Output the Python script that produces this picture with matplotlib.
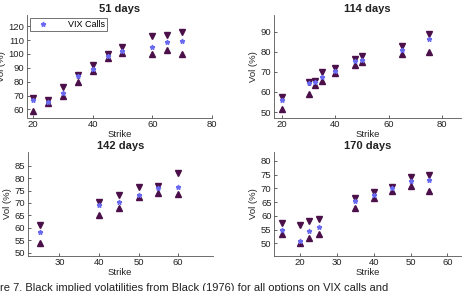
import matplotlib
matplotlib.use("Agg")
import matplotlib.pyplot as plt

plt.rcParams["font.family"] = ["Liberation Sans", "DejaVu Sans"]

# 51 days
k51 = [20, 25, 30, 35, 40, 45, 50, 60, 65, 70]
ask51 = [68, 66.5, 76, 85, 92, 100, 105, 113, 113.5, 116]
bid51 = [59, 64.5, 70, 80, 88, 97, 100.5, 100, 102.5, 100]
mid51 = [67, 65.5, 72, 84, 89, 98.5, 102, 105, 108.5, 109.5]

# 114 days
k114 = [20, 30, 32.5, 35, 40, 47.5, 50, 65, 75]
ask114 = [57.5, 65, 65.5, 70, 72, 76.5, 78, 83, 89]
bid114 = [51.5, 59, 63.5, 65.5, 69.5, 73.5, 75, 79, 80]
mid114 = [56, 64.5, 64.8, 67.5, 70.5, 75.5, 76, 81, 86.5]

# 142 days
k142 = [25, 40, 45, 50, 55, 60]
ask142 = [61, 70.5, 73, 76.5, 77, 82]
bid142 = [54, 65, 68, 72.5, 74, 73.5]
mid142 = [58.5, 69, 70.5, 73.3, 76, 76.3]

# 170 days
k170 = [15, 20, 22.5, 25, 35, 40, 45, 50, 55]
ask170 = [57.5, 56.5, 58, 59, 66.5, 68.5, 70.5, 74, 75]
bid170 = [53.5, 50, 52, 53.5, 63, 66.5, 69, 71, 69]
mid170 = [55, 51, 54.3, 55.8, 65.5, 67.5, 70, 72.5, 73]

titles = ["51 days", "114 days", "142 days", "170 days"]
xticks = [[20, 40, 60, 80], [20, 40, 60, 80], [30, 40, 50, 60], [20, 30, 40, 50, 60]]
yticks = [list(range(60, 121, 10)), list(range(50, 91, 10)),
          list(range(50, 86, 5)), list(range(50, 81, 5))]
xlims = [(18, 80), (17, 87), (22, 68.7), (13, 63.6)]
ylims = [(54.2, 128), (47.3, 98.3), (48.8, 90.6), (45.5, 83.3)]

W, H = 464, 291
fig = plt.figure(figsize=(W / 100, H / 100), dpi=100)
rects = [(27, 212, 15, 117.5), (274, 461, 15, 117.5),
         (27.7, 212.7, 151.7, 255.7), (274.3, 460.7, 151.7, 255.7)]

data = [(k51, ask51, bid51, mid51), (k114, ask114, bid114, mid114),
        (k142, ask142, bid142, mid142), (k170, ask170, bid170, mid170)]

tri_c = "#4b1049"
star_c = "#6a6af0"

for i, (l, r, t, b) in enumerate(rects):
    ax = fig.add_axes([l / W, 1 - b / H, (r - l) / W, (b - t) / H])
    k, a, bd, m = data[i]
    ax.plot(k, a, linestyle="none", marker="v", color=tri_c, markersize=4)
    ax.plot(k, bd, linestyle="none", marker="^", color=tri_c, markersize=4)
    ax.plot(k, m, linestyle="none", marker="*", color=star_c, markersize=3.5,
            label="VIX Calls")
    ax.set_xlim(*xlims[i])
    ax.set_ylim(*ylims[i])
    ax.set_xticks(xticks[i])
    ax.set_yticks(yticks[i])
    ax.tick_params(direction="in", length=2, width=0.5, labelsize=6.8, pad=2,
                   colors="#222222")
    for s in ["top", "right"]:
        ax.spines[s].set_visible(False)
    for s in ["left", "bottom"]:
        ax.spines[s].set_linewidth(0.6)
        ax.spines[s].set_color("#555555")
    ax.set_title(titles[i], fontsize=8, fontweight="bold", pad=2, color="#222222")
    ax.set_xlabel("Strike", fontsize=6.8, labelpad=0.5, color="#222222")
    ax.set_ylabel("Vol (%)", fontsize=6.8, labelpad=2, color="#222222")
    if i == 0:
        leg = ax.legend(loc="upper left", fontsize=6.5, frameon=True, fancybox=False,
                        borderpad=0.25, handletextpad=1.5, borderaxespad=0.3,
                        handlelength=2.5)
        leg.get_frame().set_edgecolor("#333333")
        leg.get_frame().set_linewidth(0.6)

fig.text(0.0, 1 - 293 / H,
         "re 7. Black implied volatilities from Black (1976) for all options on VIX calls and",
         fontsize=8, ha="left", va="bottom", color="#222222")

fig.savefig("out.png", dpi=100)
